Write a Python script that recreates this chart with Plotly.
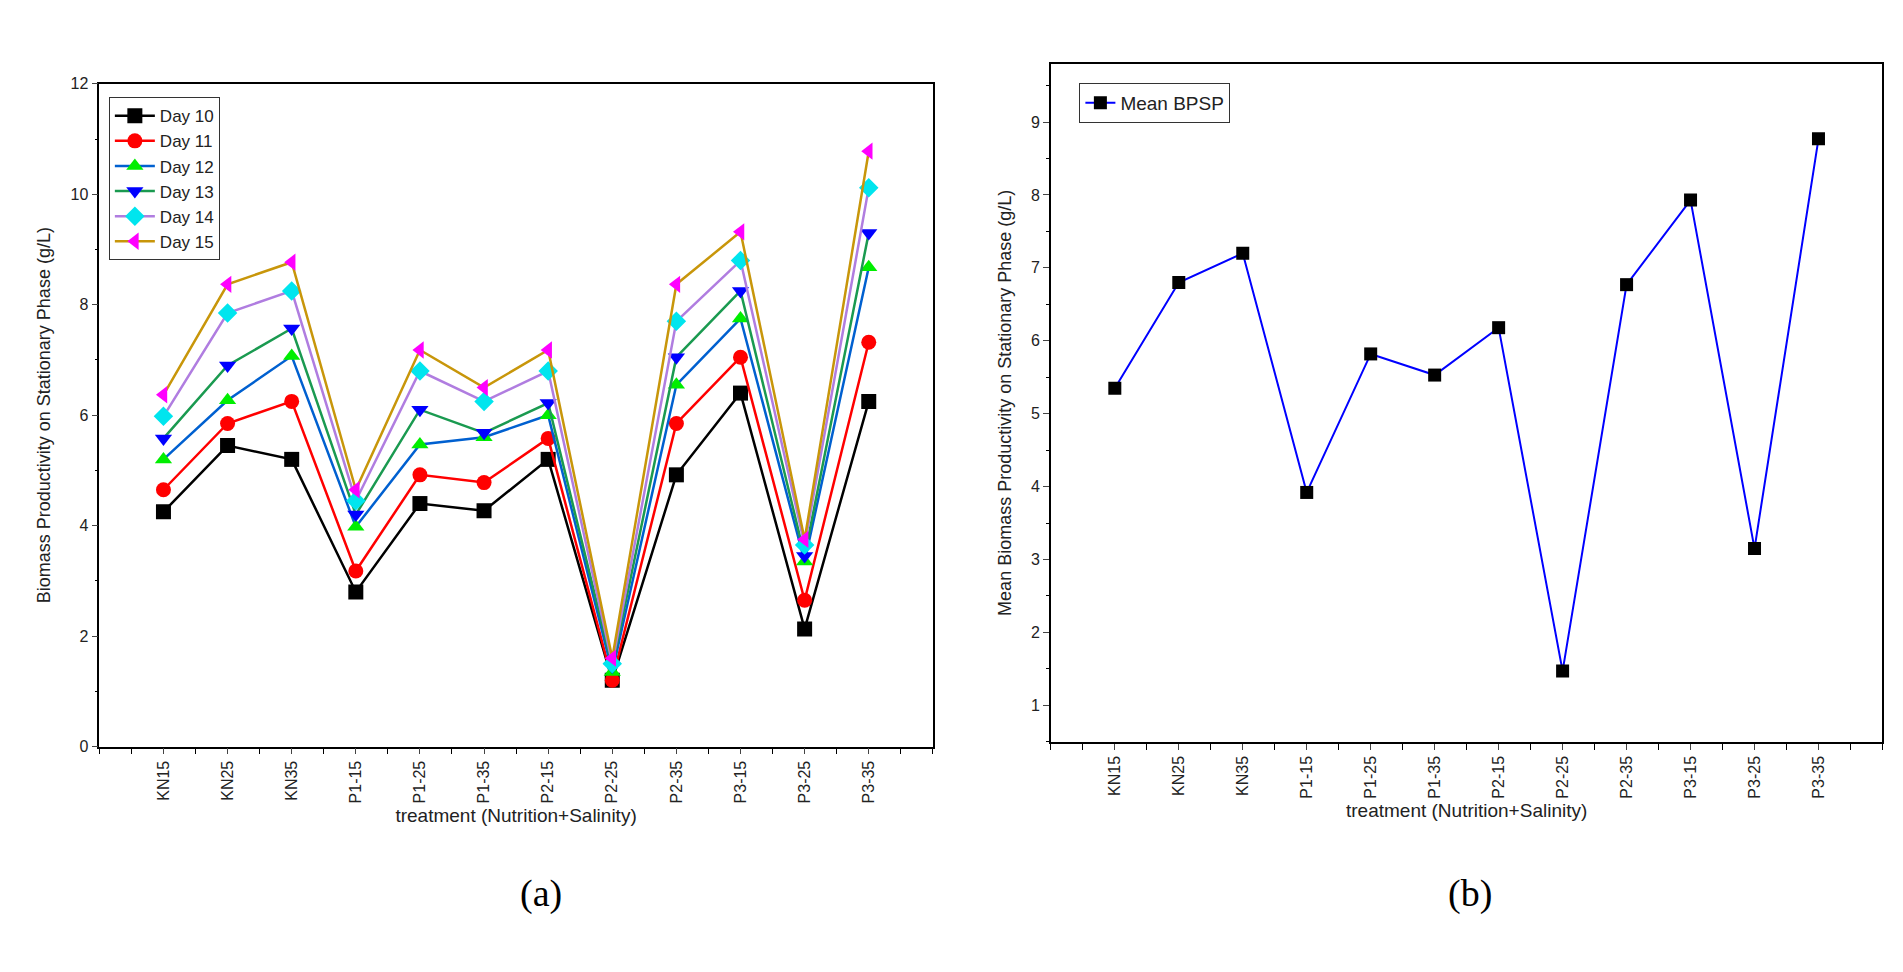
import plotly.graph_objects as go

categories = ["KN15","KN25","KN35","P1-15","P1-25","P1-35","P2-15","P2-25","P2-35","P3-15","P3-25","P3-35"]
day10 = [4.25,5.45,5.2,2.8,4.4,4.27,5.2,1.2,4.92,6.4,2.13,6.25]
day11 = [4.65,5.85,6.25,3.18,4.92,4.78,5.58,1.2,5.85,7.05,2.65,7.32]
day12 = [5.2,6.27,7.07,3.98,5.47,5.6,6.0,1.35,6.55,7.75,3.35,8.68]
day13 = [5.58,6.9,7.57,4.2,6.1,5.68,6.22,1.45,7.05,8.25,3.45,9.3]
day14 = [5.98,7.85,8.25,4.45,6.8,6.25,6.8,1.5,7.7,8.8,3.65,10.12]
day15 = [6.37,8.37,8.77,4.65,7.18,6.5,7.18,1.6,8.37,9.32,3.75,10.78]
mean_bpsp = [5.35,6.8,7.2,3.92,5.82,5.53,6.18,1.47,6.77,7.93,3.15,8.77]

x = list(range(len(categories)))
series = [
    ("Day 10", day10, "#000000", "#000000", "square"),
    ("Day 11", day11, "#ff0000", "#ff0000", "circle"),
    ("Day 12", day12, "#0060d0", "#00ee00", "triangle-up"),
    ("Day 13", day13, "#1a9a50", "#0000ff", "triangle-down"),
    ("Day 14", day14, "#b07de0", "#00e5ee", "diamond"),
    ("Day 15", day15, "#c8960a", "#ff00ff", "triangle-left"),
]
fig = go.Figure()
for name, vals, lc, mc, sym in series:
    fig.add_trace(go.Scatter(x=x, y=vals, name=name, mode="lines+markers",
        line=dict(color=lc, width=2.5), marker=dict(color=mc, symbol=sym, size=15),
        xaxis="x", yaxis="y", legend="legend"))
fig.add_trace(go.Scatter(x=x, y=mean_bpsp, name="Mean BPSP", mode="lines+markers",
    line=dict(color="#0000ff", width=2), marker=dict(color="#000000", symbol="square", size=13),
    xaxis="x2", yaxis="y2", legend="legend2"))

font = dict(family="Liberation Sans, Arial", size=16, color="#222")
ax = dict(showline=True, linecolor="black", linewidth=1.5, mirror=True, ticks="outside",
          ticklen=6, showgrid=False, zeroline=False, tickfont=font,
          minor=dict(ticks="outside", ticklen=3, tickcolor="black"))
xax = dict(ax, tickvals=x, ticktext=categories, range=[-1, 12], tickangle=-90,
           minor=dict(ticks="outside", ticklen=6, dtick=0.5, tick0=0.5, tickcolor="black"))
fig.update_layout(
    width=1903, height=972, paper_bgcolor="white", plot_bgcolor="white",
    margin=dict(l=0, r=0, t=0, b=0), font=font,
    xaxis=dict(xax, domain=[0.048, 0.486], anchor="y",
               title=dict(text="treatment (Nutrition+Salinity)", font=dict(size=19), standoff=6)),
    yaxis=dict(ax, domain=[0.235, 0.929], anchor="x", range=[0, 12], dtick=2,
               minor=dict(ticks="outside", ticklen=3, dtick=1, tickcolor="black"),
               title=dict(text="Biomass Productivity on Stationary Phase (g/L)", font=dict(size=18))),
    xaxis2=dict(xax, domain=[0.548, 0.985], anchor="y2",
                title=dict(text="treatment (Nutrition+Salinity)", font=dict(size=19), standoff=6)),
    yaxis2=dict(ax, domain=[0.240, 0.950], anchor="x2", range=[0.5, 9.8], dtick=1,
                minor=dict(ticks="outside", ticklen=3, dtick=0.5, tickcolor="black"),
                title=dict(text="Mean Biomass Productivity on Stationary Phase (g/L)", font=dict(size=18))),
    legend=dict(x=0.053, y=0.915, xanchor="left", yanchor="top", bordercolor="#333",
                borderwidth=1, font=dict(size=17), tracegroupgap=0, itemwidth=40),
    legend2=dict(x=0.563, y=0.93, xanchor="left", yanchor="top", bordercolor="#333",
                 borderwidth=1, font=dict(size=19)),
    annotations=[
        dict(text="(a)", x=0.268, y=0.057, xref="paper", yref="paper", showarrow=False,
             font=dict(family="Liberation Serif, Times New Roman", size=38, color="black")),
        dict(text="(b)", x=0.781, y=0.057, xref="paper", yref="paper", showarrow=False,
             font=dict(family="Liberation Serif, Times New Roman", size=38, color="black")),
    ],
)
fig.write_html("out.html")
